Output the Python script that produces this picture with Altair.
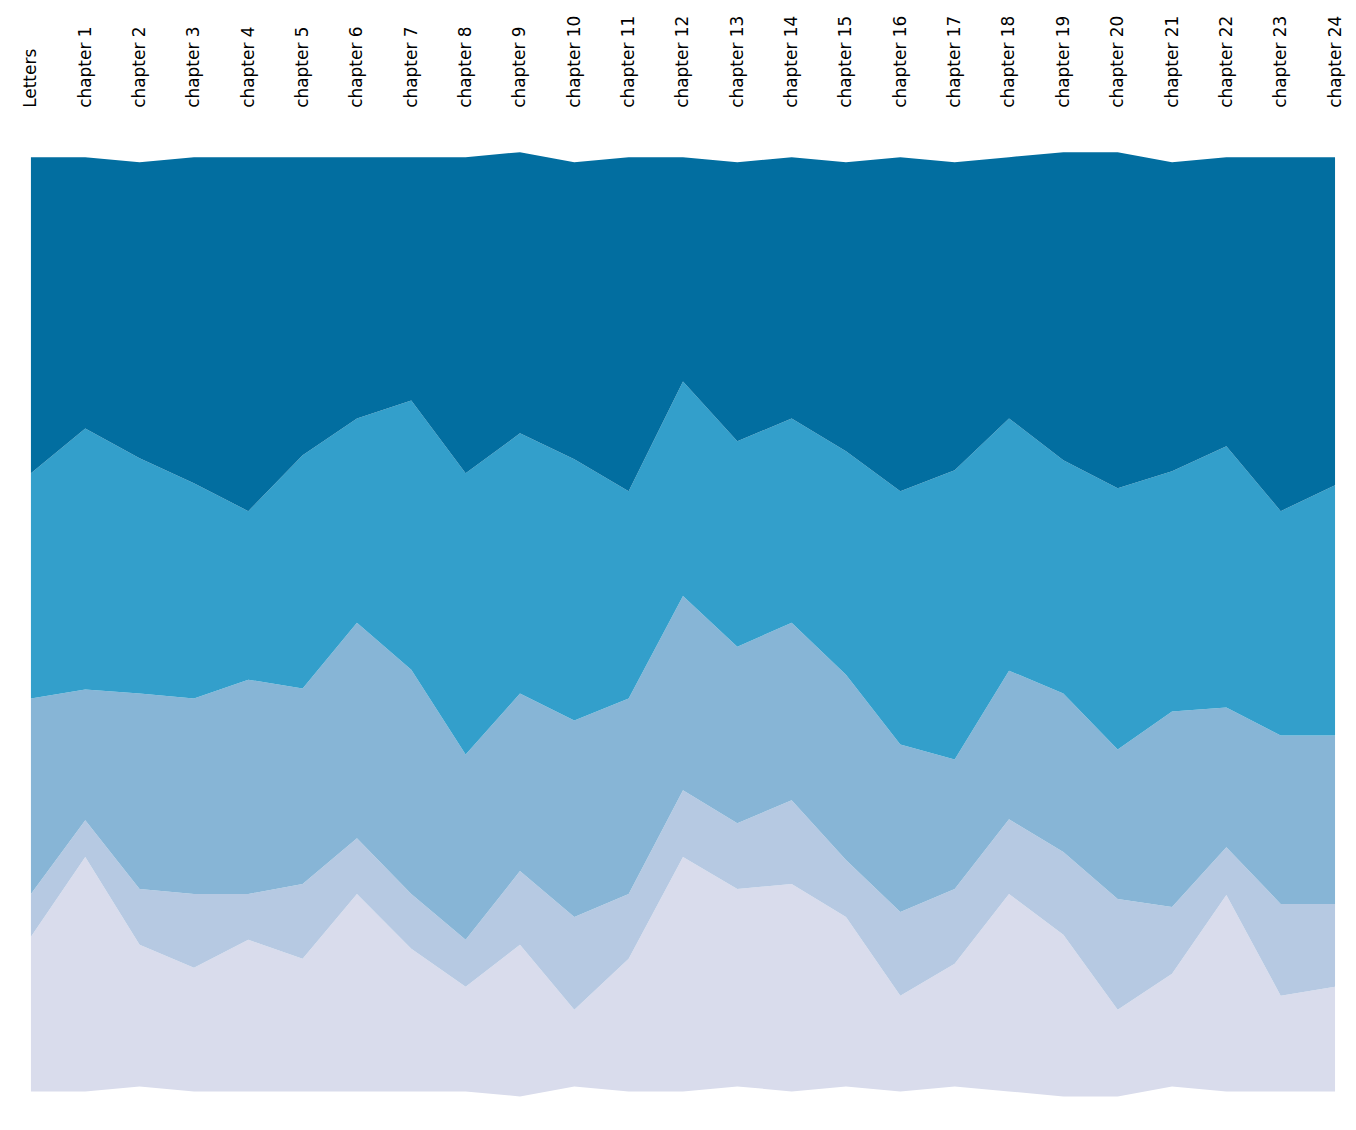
import altair as alt
import pandas as pd

cats = ["Letters"] + [f"chapter {i}" for i in range(1, 25)]
top = [163,163,168,163,163,163,163,163,163,158,168,163,163,168,163,168,163,168,163,158,158,168,163,163,163]
b1 = [480,435,465,490,518,462,425,407,480,440,466,498,388,448,425,458,498,477,425,467,495,478,453,518,492]
b2 = [706,697,701,706,687,696,630,677,762,701,728,706,603,654,630,682,752,767,678,701,757,719,715,743,743]
b3 = [902,828,897,902,902,892,846,902,948,879,925,902,798,831,808,868,920,897,827,860,907,915,855,912,912]
b4 = [945,865,953,976,948,967,902,957,995,953,1018,967,865,897,892,925,1004,972,902,943,1018,982,903,1004,995]
bot = [1100,1100,1095,1100,1100,1100,1100,1100,1100,1105,1095,1100,1100,1095,1100,1095,1100,1095,1100,1105,1105,1095,1100,1100,1100]

series = ["s1", "s2", "s3", "s4", "s5"]  # bottom to top
colors = ["#d9dcec", "#b6c9e2", "#87b5d6", "#339fcb", "#026ea0"]

rows = []
for i, c in enumerate(cats):
    vals = [bot[i]-b4[i], b4[i]-b3[i], b3[i]-b2[i], b2[i]-b1[i], b1[i]-top[i]]
    for k, (s, v) in enumerate(zip(series, vals)):
        rows.append({"cat": c, "series": s, "value": v, "ord": k})
df = pd.DataFrame(rows)

chart = alt.Chart(df).mark_area(interpolate="linear").encode(
    x=alt.X("cat:N", sort=cats, scale=alt.Scale(type="point", padding=0),
            axis=alt.Axis(orient="top", title=None, labelAngle=-90, domain=False, ticks=False,
                          labelFontSize=17, labelFont="DejaVu Sans", labelColor="#000",
                          labelPadding=45, grid=False)),
    y=alt.Y("value:Q", stack="center", axis=None, scale=alt.Scale(domain=[0, 947], nice=False, zero=True)),
    color=alt.Color("series:N", scale=alt.Scale(domain=series, range=colors), legend=None),
    order=alt.Order("ord:Q"),
).properties(width=1308, height=947,
             padding={"left": 13, "top": 5, "right": 5, "bottom": 5}).configure_view(stroke=None)

chart.save("out.html", embed_options={"renderer": "svg", "actions": False})
